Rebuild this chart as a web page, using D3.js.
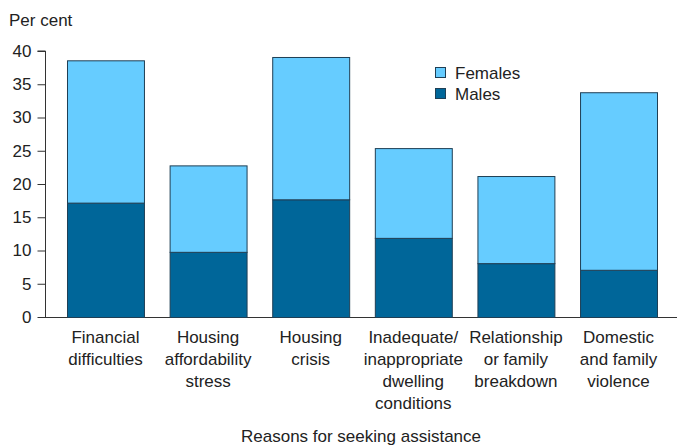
<!DOCTYPE html>
<html><head><meta charset="utf-8">
<script src="https://cdn.jsdelivr.net/npm/d3@7"></script>
<style>body{margin:0;background:#fff}svg{display:block;font-family:"Liberation Sans",Arial,sans-serif}</style>
</head><body><svg id="c" width="677" height="446"></svg>
<script>
const categories = [["Financial","difficulties"],["Housing","affordability","stress"],["Housing","crisis"],["Inadequate/","inappropriate","dwelling","conditions"],["Relationship","or family","breakdown"],["Domestic","and family","violence"]];
const males = [17.2, 9.8, 17.7, 11.9, 8.1, 7.1];
const females = [21.4, 13.0, 21.4, 13.5, 13.1, 26.7];
const yTicks = [0,5,10,15,20,25,30,35,40];
const seriesNames = ["Females","Males"];
const colors = {Females:"#66CCFF", Males:"#006699"};
const FS = 17;

const svg = d3.select("#c");
const y = d3.scaleLinear().domain([0,40]).range([317,51]);
const x = d3.scaleBand().domain(d3.range(categories.length)).range([45,679]).paddingInner(0.25).paddingOuter(0.2144);

const data = categories.map((c,i)=>({i, Males:males[i], Females:females[i]}));
const stack = d3.stack().keys(["Males","Females"])(data);

svg.append("line").attr("x1",45).attr("x2",677).attr("y1",y(0)+0.5).attr("y2",y(0)+0.5).attr("stroke","#333").attr("stroke-width",1);

svg.append("g").selectAll("g").data(stack).join("g")
  .attr("fill",d=>colors[d.key])
  .selectAll("rect").data(d=>d).join("rect")
  .attr("x",d=>x(d.data.i)+0.5).attr("width",x.bandwidth())
  .attr("y",d=>y(d[1])+0.5).attr("height",d=>y(d[0])-y(d[1]))
  .attr("stroke","#1f3f55").attr("stroke-width",1);

const yAxis = d3.axisLeft(y).tickValues(yTicks).tickSize(8).tickPadding(6);
const ga = svg.append("g").attr("transform","translate(45.5,0)").call(yAxis);
ga.select(".domain").attr("stroke","#333").attr("d","M-8,"+y(40)+"H0V"+(y(0)+0.5));
ga.selectAll(".tick line").attr("stroke","#333");
ga.selectAll("text").attr("font-size",FS).attr("fill","#222").attr("font-family","Liberation Sans, Arial, sans-serif");

categories.forEach((lines,i)=>{
  const cx = x(i)+x.bandwidth()/2;
  const t = svg.append("text").attr("text-anchor","middle").attr("font-size",FS).attr("fill","#222");
  lines.forEach((l,k)=>t.append("tspan").attr("x",cx).attr("y",343+k*22).text(l));
});

svg.append("text").attr("x",9).attr("y",26).attr("font-size",FS).attr("fill","#222").text("Per cent");
svg.append("text").attr("x",361).attr("y",442).attr("text-anchor","middle").attr("font-size",FS).attr("fill","#222").text("Reasons for seeking assistance");

seriesNames.forEach((s,k)=>{
  svg.append("rect").attr("x",435.5).attr("y",67.5+k*21).attr("width",10).attr("height",10).attr("fill",colors[s]).attr("stroke","#1f3f55");
  svg.append("text").attr("x",455).attr("y",79+k*21).attr("font-size",FS).attr("fill","#222").text(s);
});
</script></body></html>
